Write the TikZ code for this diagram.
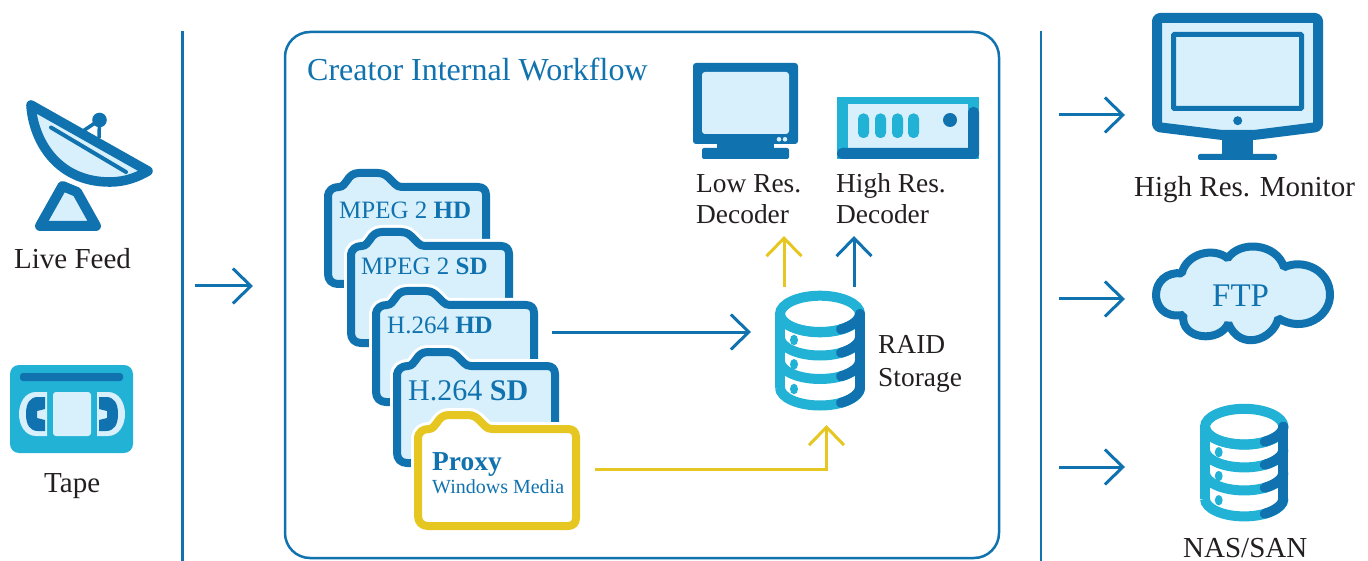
\documentclass[tikz,border=0pt]{standalone}
\usepackage{fontspec}
\setmainfont{Liberation Serif}
\usetikzlibrary{arrows.meta}
\definecolor{dk}{HTML}{1072AE}
\definecolor{cy}{HTML}{22B2D6}
\definecolor{lt}{HTML}{D8F0FC}
\definecolor{yl}{HTML}{E6C620}
\definecolor{tx}{HTML}{231F20}
\newcommand{\fs}[1]{\fontsize{#1}{#1}\selectfont}
\newcommand{\folderpath}{(0,24) .. controls (0,17) and (5,14) .. (11,14) .. controls (15,14) and (17,10) .. (19,7.5) .. controls (22,3) and (25,0) .. (31,0) -- (50,0) .. controls (56,0) and (59,3) .. (62,6) -- (67,11) .. controls (69,13) and (71,14) .. (74,14) -- (150,14) .. controls (155,14) and (158,17) .. (158,22) -- (158,103) .. controls (158,108) and (155,111) .. (150,111) -- (10,111) .. controls (4,111) and (0,107) .. (0,101) -- cycle}
\newcommand{\folderat}[4]{%
  \begin{scope}[shift={(#1,#2)}]
    \draw[white,line width=14pt,line join=round] \folderpath;
    \draw[draw=#3,fill=#4,line width=8pt,line join=round] \folderpath;
  \end{scope}}
\newcommand{\band}[1]{%
  \draw[cy,line width=10pt] (-40,#1) .. controls (-40,#1+10) and (-22,#1+18) .. (0,#1+18) .. controls (22,#1+18) and (40,#1+10) .. (40,#1);
  \draw[dk,line width=10pt,line cap=round] (40,#1) .. controls (40,#1+6) and (32,#1+12) .. (21,#1+15.3);}
\newcommand{\diskat}[3]{%
  \begin{scope}[shift={(#1,#2)},scale=#3]
    \draw[cy,line width=10pt] (-40,-37) -- (-40,37);
    \draw[cy,line width=10pt] (0,-55.3) .. controls (22,-55.3) and (40,-47) .. (40,-37) .. controls (40,-27) and (22,-18.7) .. (0,-18.7) .. controls (-22,-18.7) and (-40,-27) .. (-40,-37) .. controls (-40,-47) and (-22,-55.3) .. (0,-55.3) -- cycle;
    \band{-37}\band{-13.5}\band{10}\band{36.5}
    \draw[dk,line width=10pt,line cap=round] (40,-37) -- (40,36.5);
    \fill[cy] (-26,-11) ellipse[x radius=4pt,y radius=5.3pt];
    \fill[cy] (-26,13.3) ellipse[x radius=4pt,y radius=5.3pt];
    \fill[cy] (-26,38) ellipse[x radius=4pt,y radius=5.3pt];
  \end{scope}}
\tikzset{
  x=1pt,y=-1pt,
  lbl/.style={anchor=base west,inner sep=0pt,text=tx,font=\fs{29}},
  lblsm/.style={anchor=base west,inner sep=0pt,text=tx,font=\fs{27.4}},
  ftxt/.style={anchor=base west,inner sep=0pt,text=dk,font=\fs{25}},
  flow/.style={line width=3pt,dk,-{Straight Barb[length=18pt,width=35pt,line width=3pt]}},
  flowy/.style={line width=3pt,yl,-{Straight Barb[length=18pt,width=35pt,line width=3pt]}},
  rule/.style={dk,line width=2.5pt}
}
\begin{document}
\begin{tikzpicture}
\useasboundingbox (0,0) rectangle (1368,561);
% rules and frame
\draw[rule] (182.5,31) -- (182.5,561);
\draw[rule] (1041,31) -- (1041,561);
\draw[rule,rounded corners=25pt] (285,32) rectangle (999,558);
\node[anchor=base west,inner sep=0pt,text=dk,font=\fs{32}] (title) at (307,81) {Creator Internal Workflow};
% dish
\draw[draw=dk,fill=lt,line width=9.6pt,line join=round] (31,105) .. controls (33,138) and (55,182) .. (110,182) .. controls (125,182) and (138,177) .. (148,171) -- cycle;
\draw[dk,line width=4pt,line cap=round] (51,127.5) -- (126,172);
\draw[dk,line width=3.5pt] (99.5,120) -- (83,131);
\draw[dk,line width=3.5pt] (99.5,120) -- (99,138);
\fill[dk] (99.5,120) circle[radius=7.3pt];
\draw[draw=dk,fill=lt,line width=10pt,line join=round] (40,226) -- (62.5,186) -- (77,192) -- (96,226) -- cycle;
\node[lbl] (live) at (14,268.5) {Live Feed};
% tape
\fill[cy,rounded corners=9pt] (10,365) rectangle (133,453);
\fill[dk,rounded corners=3pt] (20,373) rectangle (123,381);
\fill[lt,rounded corners=3pt] (53,392) rectangle (91,436);
\fill[lt] (47,392) -- (36,392) .. controls (25,392) and (19,403) .. (19,414) .. controls (19,425) and (25,436) .. (36,436) -- (47,436) -- cycle;
\fill[lt] (97,392) -- (108,392) .. controls (119,392) and (125,403) .. (125,414) .. controls (125,425) and (119,436) .. (108,436) -- (97,436) -- cycle;
\fill[dk] (45,397) -- (38,397) .. controls (30,397) and (26,403) .. (26,414) .. controls (26,425) and (30,431) .. (38,431) -- (45,431) -- (45,420) -- (37,418) -- (37,411) -- (45,409) -- cycle;
\fill[dk] (99,397) -- (106,397) .. controls (114,397) and (118,403) .. (118,414) .. controls (118,425) and (114,431) .. (106,431) -- (99,431) -- (99,420) -- (107,418) -- (107,411) -- (99,409) -- cycle;
\node[lbl] (tape) at (44,492) {Tape};
% folders
\folderat{328}{173}{dk}{lt}
\node[ftxt] (f1) at (339,218.5) {MPEG 2 \textbf{HD}};
\folderat{351}{232}{dk}{lt}
\node[ftxt] (f2) at (361,275) {MPEG 2 \textbf{SD}};
\folderat{376}{291}{dk}{lt}
\node[ftxt] (f3) at (387,334) {H.264 \textbf{HD}};
\folderat{397}{352}{dk}{lt}
\node[anchor=base west,inner sep=0pt,text=dk,font=\fs{30}] (f4) at (408,400) {H.264 \textbf{SD}};
\folderat{418}{415}{yl}{white}
\node[anchor=base west,inner sep=0pt,text=dk,font=\fs{27.4}\bfseries] (proxy) at (432,470) {Proxy};
\node[anchor=base west,inner sep=0pt,text=dk,font=\fs{20}] (wm) at (432,493) {Windows Media};
% low res decoder
\fill[dk,rounded corners=3pt] (693,63) rectangle (798,144);
\fill[lt,rounded corners=3pt] (702,72) rectangle (789,134);
\fill[dk] (717,143) rectangle (774,149);
\fill[dk,rounded corners=2pt] (702,148) rectangle (789,159);
\fill[lt] (779,139.3) circle[radius=2.3pt];
\fill[lt] (785,139.3) circle[radius=2.3pt];
\node[lblsm] (lo1) at (696,193) {Low Res.};
\node[lblsm] (lo2) at (696,224) {Decoder};
% high res decoder
\fill[cy] (837,97) rectangle (979,159);
\fill[lt] (848,104) rectangle (968,148);
\fill[dk,rounded corners=5pt] (837,148) rectangle (979,159);
\fill[dk,rounded corners=5pt] (968,107) rectangle (979,159);
\foreach \px in {858,875,892,908}{\fill[cy,rounded corners=5pt] (\px,113.5) rectangle (\px+11,138);}
\fill[dk] (950,120) circle[radius=7pt];
\node[lblsm] (hi1) at (836,193) {High Res.};
\node[lblsm] (hi2) at (836,224) {Decoder};
% raid
\diskat{820}{351}{1}
\node[lblsm] (raid1) at (878,353.5) {RAID};
\node[lblsm] (raid2) at (878,386) {Storage};
% internal connectors
\coordinate (hdOut) at (552,332);
\coordinate (raidW) at (751,332);
\coordinate (pxOut) at (595,469);
\coordinate (raidS) at (826.5,425);
\coordinate (raidNa) at (784,287);
\coordinate (loS) at (784,236);
\coordinate (raidNb) at (854,287);
\coordinate (hiS) at (854,236);
\draw[flow] (hdOut) -- (raidW);
\draw[flowy] (pxOut) -| (raidS);
\draw[flowy] (raidNa) -- (loS);
\draw[flow] (raidNb) -- (hiS);
% input arrow
\coordinate (inA) at (195,286);
\coordinate (inB) at (253,286);
\draw[flow] (inA) -- (inB);
% high res monitor
\draw[draw=dk,fill=lt,line width=10pt,line join=round,rounded corners=3pt] (1157,18) -- (1318,18) -- (1318,127) -- (1254,135) -- (1222,135) -- (1157,127) -- cycle;
\draw[draw=dk,fill=lt,line width=5pt,rounded corners=1pt] (1173.5,34.5) rectangle (1301.5,108.5);
\fill[dk] (1237.7,120.7) circle[radius=4.5pt];
\fill[dk] (1222,138) rectangle (1253,155);
\fill[dk,rounded corners=2pt] (1198,154) rectangle (1277,160);
\node[lbl] (mon) at (1134,197) {High Res. Monitor};
% ftp
\draw[draw=dk,fill=lt,line width=8pt,line join=bevel] (1181.7,273.3) .. controls (1186.7,253.3) and (1213.3,246.7) .. (1227.7,258.3) .. controls (1240,240) and (1276.7,243) .. (1284,267.3) .. controls (1303.3,258.3) and (1330,270) .. (1330,295) .. controls (1330,316.7) and (1303.3,333.3) .. (1278.3,318.3) .. controls (1273.3,340) and (1240,352) .. (1228.3,323.3) .. controls (1220,343.3) and (1180,340) .. (1183.3,315) .. controls (1163.3,318.3) and (1156,305) .. (1156,295) .. controls (1156,281.7) and (1166.7,271.7) .. (1181.7,273.3) -- cycle;
\node[anchor=base west,inner sep=0pt,text=dk,font=\fs{33}] (ftp) at (1212,306) {FTP};
% nas
\diskat{1244.2}{463}{0.98}
\node[lbl] (nas) at (1183,557) {NAS/SAN};
% output arrows
\coordinate (o1a) at (1059,115);
\coordinate (o1b) at (1125,115);
\coordinate (o2a) at (1059,299);
\coordinate (o2b) at (1125,299);
\coordinate (o3a) at (1059,467);
\coordinate (o3b) at (1125,467);
\draw[flow] (o1a) -- (o1b);
\draw[flow] (o2a) -- (o2b);
\draw[flow] (o3a) -- (o3b);
\end{tikzpicture}
\end{document}
